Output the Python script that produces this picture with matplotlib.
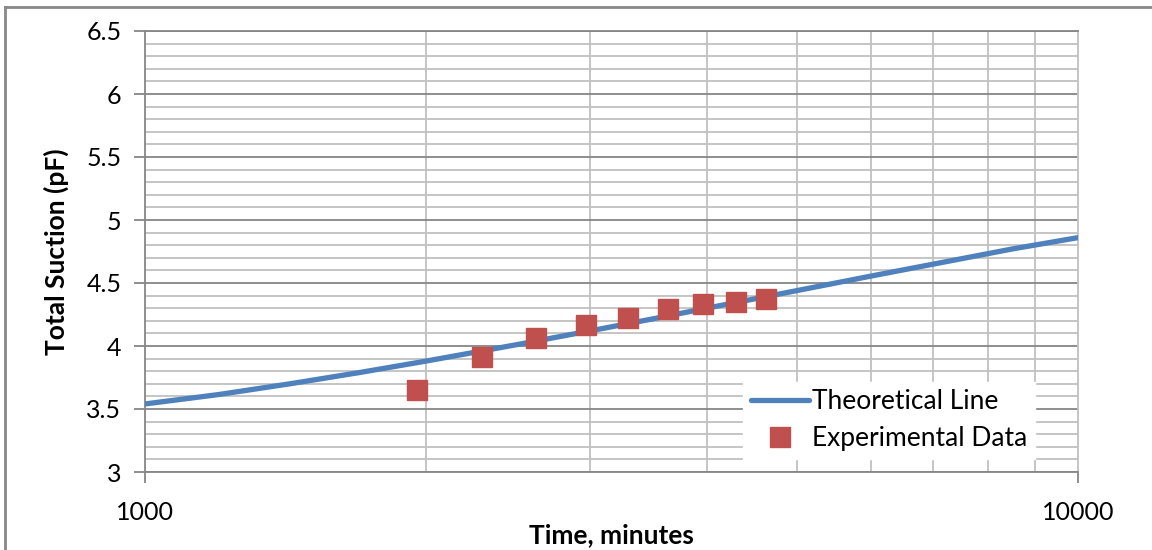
import matplotlib
matplotlib.use("Agg")
import matplotlib.pyplot as plt
from matplotlib.lines import Line2D
from matplotlib.ticker import FixedLocator, FixedFormatter, NullFormatter, MultipleLocator, FormatStrFormatter

plt.rcParams['font.family'] = ['Lato', 'DejaVu Sans']

# theoretical curve
theory_time = [1000, 1200, 1430, 1700, 2000, 2500, 3000, 3500, 4000, 5000, 6000, 7000, 8500, 10000]
theory_suction = [3.54, 3.615, 3.70, 3.79, 3.88, 4.01, 4.12, 4.215, 4.30, 4.44, 4.555, 4.65, 4.77, 4.86]

# experimental points
exp_time = [1957, 2297, 2626, 2970, 3294, 3635, 3963, 4299, 4630]
exp_suction = [3.65, 3.91, 4.06, 4.17, 4.22, 4.29, 4.33, 4.35, 4.37]

blue = '#4F81BD'
red = '#C0504D'
grid_major = '#868686'
grid_minor = '#C0C0C0'

fig = plt.figure(figsize=(11.52, 5.5), dpi=100)
ax = fig.add_axes([145/1152, 1 - 472/550, (1078 - 145)/1152, (472 - 31)/550])

ax.plot(theory_time, theory_suction, color=blue, lw=3.8, solid_capstyle='round',
        solid_joinstyle='round', label='Theoretical Line', zorder=3)
ax.plot(exp_time, exp_suction, ls='none', marker='s', ms=14, color=red,
        markeredgecolor=red, label='Experimental Data', zorder=4)

ax.set_xscale('log')
ax.set_xlim(1000, 10000)
ax.set_ylim(3, 6.5)
ax.xaxis.set_major_locator(FixedLocator([1000, 10000]))
ax.xaxis.set_major_formatter(FixedFormatter(['1000', '10000']))
ax.xaxis.set_minor_locator(FixedLocator(range(2000, 10000, 1000)))
ax.xaxis.set_minor_formatter(NullFormatter())
ax.yaxis.set_major_locator(MultipleLocator(0.5))
ax.yaxis.set_major_formatter(FormatStrFormatter('%g'))
ax.yaxis.set_minor_locator(MultipleLocator(0.1))

ax.grid(which='major', axis='y', color=grid_major, lw=1.3, zorder=0)
ax.grid(which='minor', axis='y', color=grid_minor, lw=1.3, zorder=0)
ax.grid(which='minor', axis='x', color=grid_minor, lw=1.3, zorder=0)
ax.set_axisbelow(True)

for s in ax.spines.values():
    s.set_color(grid_major)
    s.set_linewidth(1.3)
ax.spines['right'].set_color(grid_minor)

ax.tick_params(which='major', length=8, width=1.3, color=grid_major)
ax.tick_params(which='minor', length=0)
ax.tick_params(axis='y', labelsize=18, pad=9)
ax.tick_params(axis='x', labelsize=18, pad=13)

ax.set_xlabel('Time, minutes', fontsize=19, fontweight='bold', va='center')
ax.xaxis.set_label_coords(0.5, -0.143)
ax.set_ylabel('Total Suction (pF)', fontsize=19, fontweight='bold', va='center')
ax.yaxis.set_label_coords(-0.0954, 0.5)

leg = ax.legend(loc='lower right', bbox_to_anchor=(0.968, -0.001), fontsize=19,
                frameon=True, fancybox=False, framealpha=1, edgecolor='white',
                handlelength=2.2, handletextpad=0.1, borderpad=0.3, labelspacing=0.45)

# outer chart border
fig.add_artist(Line2D([5/1152, 5/1152], [0, 1 - 7/550], color='#888888', lw=2))
fig.add_artist(Line2D([5/1152, 1], [1 - 7/550, 1 - 7/550], color='#888888', lw=2))

fig.savefig('out.png', dpi=100)
